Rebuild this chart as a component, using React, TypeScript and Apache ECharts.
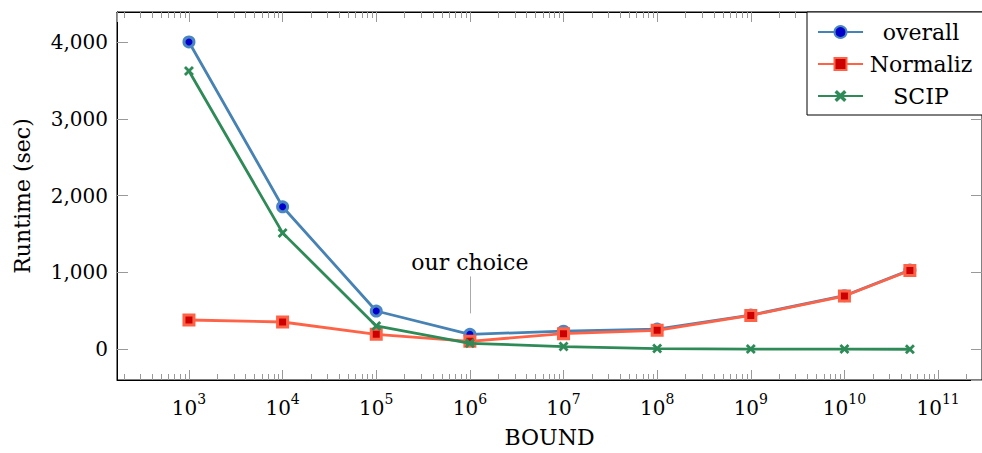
import React, { useEffect, useRef } from "react";
import * as echarts from "echarts";

const bounds = [1e3, 1e4, 1e5, 1e6, 1e7, 1e8, 1e9, 1e10, 5e10];
const overallValues = [4000, 1855, 498, 195, 235, 262, 445, 697, 1030];
const normalizValues = [381, 355, 195, 104, 203, 247, 441, 693, 1026];
const scipValues = [3623, 1515, 303, 78, 35, 9, 3, 2, 0];
const seriesNames = ["overall", "Normaliz", "SCIP"];
const annotationText = "our choice";
const annotationBound = 1e6;
const annotationRange = [467, 948];

const FONT = "DejaVu Serif";
const X_MIN = Math.pow(10, 2.2316);
const X_MAX = Math.pow(10, 11.469);
const Y_MIN = -400;
const Y_MAX = 4390;

function minorTickValues(): number[] {
  const out: number[] = [];
  for (let e = 2; e <= 11; e++) {
    for (let m = 2; m <= 9; m++) {
      const v = m * Math.pow(10, e);
      if (v > X_MIN && v < X_MAX) out.push(v);
    }
  }
  return out;
}

function pow10Label(v: number): string {
  const l = Math.log10(v);
  const e = Math.round(l);
  if (Math.abs(l - e) > 1e-6) return "";
  return `{b|10}{s|${e}}`;
}

export default function App() {
  const ref = useRef<HTMLDivElement>(null);
  useEffect(() => {
    if (!ref.current) return;
    const chart = echarts.init(ref.current, null, { renderer: "svg" });
    const tickColor = "#999";
    const xData = (vals: number[]) => bounds.map((b, i) => [b, vals[i]]);
    const option: any = {
      animation: false,
      backgroundColor: "#fff",
      textStyle: { fontFamily: FONT },
      grid: {
        left: 117,
        top: 12,
        width: 869,
        height: 369,
        show: true,
        borderColor: "#000",
        borderWidth: 1,
        backgroundColor: "transparent",
      },
      xAxis: [
        {
          type: "log",
          logBase: 10,
          min: X_MIN,
          max: X_MAX,
          splitNumber: 9,
          position: "bottom",
          name: "BOUND",
          nameLocation: "middle",
          nameGap: 46,
          nameTextStyle: { fontFamily: FONT, fontSize: 22, color: "#000" },
          axisLine: { show: true, onZero: false, lineStyle: { color: "#000", width: 1 } },
          axisTick: { show: true, inside: true, length: 10, lineStyle: { color: tickColor } },
          splitLine: { show: false },
          axisLabel: {
            margin: 12,
            formatter: (v: number) => pow10Label(v),
            showMinLabel: false,
            showMaxLabel: false,
            rich: {
              b: { fontFamily: FONT, fontSize: 20, color: "#000", verticalAlign: "bottom", lineHeight: 26 },
              s: { fontFamily: FONT, fontSize: 14, color: "#000", verticalAlign: "top", lineHeight: 14 },
            },
          },
        },
        {
          type: "log",
          logBase: 10,
          min: X_MIN,
          max: X_MAX,
          splitNumber: 9,
          position: "top",
          axisLine: { show: true, onZero: false, lineStyle: { color: "#000", width: 1 } },
          axisTick: { show: true, inside: true, length: 10, lineStyle: { color: tickColor } },
          axisLabel: { show: false },
          splitLine: { show: false },
        },
      ],
      yAxis: [
        {
          type: "value",
          min: Y_MIN,
          max: Y_MAX,
          splitNumber: 5,
          position: "left",
          name: "Runtime (sec)",
          nameLocation: "middle",
          nameGap: 84,
          nameTextStyle: { fontFamily: FONT, fontSize: 22, color: "#000" },
          axisLine: { show: true, onZero: false, lineStyle: { color: "#000", width: 1 } },
          axisTick: { show: true, inside: true, length: 11, lineStyle: { color: tickColor } },
          splitLine: { show: false },
          axisLabel: {
            margin: 9,
            fontFamily: FONT,
            fontSize: 20,
            color: "#000",
            showMinLabel: false,
            showMaxLabel: false,
            formatter: (v: number) => (v % 1000 === 0 ? v.toLocaleString("en-US") : ""),
          },
        },
        {
          type: "value",
          min: Y_MIN,
          max: Y_MAX,
          splitNumber: 5,
          position: "right",
          axisLine: { show: true, onZero: false, lineStyle: { color: "#000", width: 1 } },
          axisTick: { show: true, inside: true, length: 11, lineStyle: { color: tickColor } },
          axisLabel: { show: false },
          splitLine: { show: false },
        },
      ],
      legend: {
        left: 807,
        top: 12,
        orient: "vertical",
        backgroundColor: "#fff",
        borderColor: "#000",
        borderWidth: 1,
        padding: [9, 40, 8, 10],
        itemGap: 10,
        itemWidth: 45,
        itemHeight: 15,
        data: seriesNames,
        formatter: (name: string) => `{c|${name}}`,
        textStyle: {
          rich: { c: { fontFamily: FONT, fontSize: 22, color: "#000", width: 106, align: "center", lineHeight: 23 } },
        },
      },
      series: [
        {
          name: seriesNames[0],
          type: "line",
          data: xData(overallValues),
          symbol: "circle",
          symbolSize: 10,
          lineStyle: { color: "#4682b4", width: 2.8 },
          itemStyle: { color: "#0000cc", borderColor: "#4a86c2", borderWidth: 3 },
          z: 3,
          markLine: {
            silent: true,
            symbol: ["none", "none"],
            lineStyle: { color: "#aaa", width: 1, type: "solid" },
            label: {
              show: true,
              position: "end",
              distance: 3,
              formatter: annotationText,
              fontFamily: FONT,
              fontSize: 22,
              color: "#000",
            },
            data: [
              [
                { coord: [annotationBound, annotationRange[0]] },
                { coord: [annotationBound, annotationRange[1]] },
              ],
            ],
          },
        },
        {
          name: seriesNames[1],
          type: "line",
          data: xData(normalizValues),
          symbol: "rect",
          symbolSize: 10,
          lineStyle: { color: "#ff6347", width: 2.8 },
          itemStyle: { color: "#cc0000", borderColor: "#ff6347", borderWidth: 3 },
          z: 4,
        },
        {
          name: seriesNames[2],
          type: "line",
          data: xData(scipValues),
          symbol: "path://M0,2 L2,0 L5,3 L8,0 L10,2 L7,5 L10,8 L8,10 L5,7 L2,10 L0,8 L3,5 Z",
          symbolSize: 10,
          lineStyle: { color: "#2e8b57", width: 2.8 },
          itemStyle: { color: "#2e8b57" },
          z: 5,
        },
        {
          type: "custom",
          silent: true,
          xAxisIndex: 0,
          yAxisIndex: 0,
          clip: false,
          data: minorTickValues().map((v) => [v, 0]),
          renderItem: (params: any, api: any) => {
            const cs = params.coordSys;
            const x = Math.round(api.coord([api.value(0), 0])[0]) + 0.5;
            const top = cs.y;
            const bottom = cs.y + cs.height;
            const style = { stroke: tickColor, lineWidth: 1 };
            return {
              type: "group",
              children: [
                { type: "line", shape: { x1: x, y1: bottom, x2: x, y2: bottom - 6 }, style },
                { type: "line", shape: { x1: x, y1: top, x2: x, y2: top + 6 }, style },
              ],
            };
          },
          z: 1,
        },
      ],
    };
    chart.setOption(option);
    return () => chart.dispose();
  }, []);
  return (
    <div
      ref={ref}
      style={{ position: "fixed", left: 0, top: 0, width: 982, height: 453, background: "#fff" }}
    />
  );
}
